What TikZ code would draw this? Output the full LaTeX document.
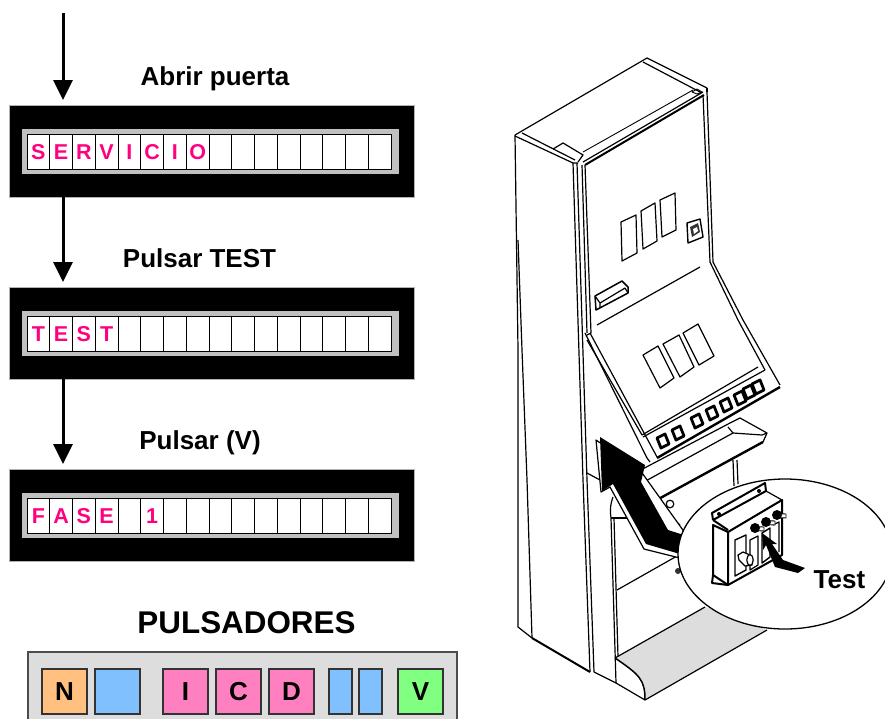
\documentclass[tikz,border=0pt]{standalone}
\usepackage{fontspec}
\setmainfont{Liberation Sans}
\usetikzlibrary{arrows.meta}
\definecolor{mag}{HTML}{FF0080}
\definecolor{lcdgray}{HTML}{C0C0C0}
\definecolor{panelgray}{HTML}{DDDDDD}
\definecolor{bOrange}{HTML}{FFC080}
\definecolor{bBlue}{HTML}{80C0FF}
\definecolor{bPink}{HTML}{FF80C0}
\definecolor{bGreen}{HTML}{80FF80}
\newcommand{\lcd}[2]{%
  \node[frameblk,minimum height=92pt,anchor=north west] (#1) at (9.5,#2) {};
  \fill[lcdgray] (22,#2+24) rectangle (399,#2+69);
  \draw[black,line width=1pt,fill=white] (27,#2+29) rectangle (391,#2+64);
  \foreach \i in {1,...,15}{\draw[line width=1pt] ({27+22.75*\i},#2+29) -- ({27+22.75*\i},#2+64);}
}
\newcommand{\lcdtext}[2]{%
  \foreach \c [count=\i from 0] in {#2}{\node[lcdch] at ({38.4+22.75*\i},#1+54) {\c};}
}
\tikzset{
  x=1pt,y=-1pt,
  frameblk/.style={fill=black,draw=gray!60,line width=.5pt,minimum width=404.5pt,inner sep=0pt,outer sep=0pt},
  lcdch/.style={text=mag,font=\fontsize{21.5}{21}\selectfont\bfseries,inner sep=0pt,anchor=base},
  lab/.style={font=\fontsize{26}{26}\selectfont\bfseries,inner sep=0pt,anchor=base},
  flow/.style={line width=3pt,-{Triangle[width=19pt,length=20pt]}},
  btn/.style={draw=black!80,line width=1.2pt,minimum height=45pt,inner sep=0pt,outer sep=0pt,anchor=north west},
  btxt/.style={font=\fontsize{26}{26}\selectfont\bfseries,inner sep=0pt,anchor=base},
  ln/.style={line width=1.2pt,line join=round},
  thn/.style={line width=.9pt,line join=round},
  thk/.style={line width=2pt,line join=round},
  btk/.style={draw=black,line width=2.8pt,fill=white,line join=round},
}
\begin{document}
\begin{tikzpicture}
\useasboundingbox (0,0) rectangle (885,718);
\clip (0,0) rectangle (885,718);
% displays
\lcd{d1}{105}\lcdtext{105}{S,E,R,V,I,C,I,O}
\lcd{d2}{287}\lcdtext{287}{T,E,S,T}
\lcd{d3}{469}\lcdtext{469}{F,A,S,E,{},1}
\coordinate (a0) at (63,13);
\draw[flow,shorten >=5pt] (a0) -- (a0|-d1.north);
\draw[flow,shorten >=5pt] (a0|-d1.south) -- (a0|-d2.north);
\draw[flow,shorten >=5pt] (a0|-d2.south) -- (a0|-d3.north);
\node[lab] (l1) at (215,85) {Abrir puerta};
\node[lab] (l2) at (199.5,267) {Pulsar TEST};
\node[lab] (l3) at (200,449) {Pulsar (V)};
\node[font=\fontsize{31.4}{31}\selectfont\bfseries,inner sep=0pt,anchor=base] (title) at (246.5,633) {PULSADORES};
% push-button panel
\draw[draw=black!70,fill=panelgray,line width=1.5pt] (28,652) rectangle (457,730);
\node[btn,fill=bOrange,minimum width=45pt] (bn) at (42,669) {};
\node[btn,fill=bBlue,minimum width=45pt] (b2) at (95,669) {};
\node[btn,fill=bPink,minimum width=45pt] (bi) at (163,669) {};
\node[btn,fill=bPink,minimum width=45pt] (bc) at (216,669) {};
\node[btn,fill=bPink,minimum width=45pt] (bd) at (269,669) {};
\node[btn,fill=bBlue,minimum width=23pt] (b6) at (329,669) {};
\node[btn,fill=bBlue,minimum width=23pt] (b7) at (359,669) {};
\node[btn,fill=bGreen,minimum width=45pt] (bv) at (398,669) {};
\node[btxt] (tn) at (64.5,700) {N};
\node[btxt] (ti) at (185.5,700) {I};
\node[btxt] (tc) at (238.5,700) {C};
\node[btxt] (td) at (291.5,700) {D};
\node[btxt] (tv) at (420.5,700) {V};
% cabinet: top
\draw[ln] (515,135) -- (647,58) -- (707,88);
\draw[ln] (515,136) -- (573,163) -- (578,163);
\draw[ln] (522,133) -- (575,160);
\draw[ln] (643,62) -- (700,92);
\draw[thn] (583,152) -- (693,90);
\draw[ln] (553,149) -- (563,143) -- (583,155) -- (578,162);
\draw[thn] (692,92) -- (697,89) -- (702,92) -- (697,94) -- cycle;
\draw[ln] (583,162) -- (703,92);
\draw[thk] (585,165) -- (704,95);
\draw[ln] (707,88) -- (707,92);
% cabinet: side
\draw[ln] (515,135) -- (518,350) -- (518,627) -- (532,638);
\draw[ln] (518,240) -- (522,350) -- (527,480) -- (532,638);
\draw[thk] (532,638) -- (590,672);
\draw[ln] (573,163) -- (583,480) -- (590,672);
\draw[ln] (577,163) -- (587,480) -- (594,672);
\draw[ln] (582,165) -- (587,333);
\draw[ln] (585,165) -- (591,333) -- (587,335);
% cabinet: face right edge
\draw[ln] (703,95) -- (710,262) -- (738,320) -- (765,370);
\draw[ln] (707,92) -- (713,262) -- (743,320) -- (780,385);
% face left slant
\draw[ln] (585,333) -- (647,458);
\draw[ln] (590,333) -- (657,457);
\draw[ln] (587,340) -- (642,435);
% face windows and fittings
\draw[ln] (621,222) -- (636,215) -- (637,253) -- (622,261) -- cycle;
\draw[ln] (641,211) -- (655,203) -- (657,241) -- (643,249) -- cycle;
\draw[ln] (660,200) -- (675,193) -- (676,230) -- (662,237) -- cycle;
\draw[ln,line width=1.4pt] (687,223) -- (700,219) -- (703,237) -- (688,243) -- cycle;
\fill[black!80] (690,227) -- (698,223) -- (700,232) -- (692,237) -- cycle;
\fill[white] (693,229) -- (697,227) -- (698,231) -- (694,234) -- cycle;
\draw[ln,line width=1.5pt] (595,296) -- (622,281) -- (628,287) -- (628,293) -- (596,310) -- cycle;
\draw[ln] (595,296) -- (600,303) -- (600,308);
\draw[ln] (600,303) -- (625,288) -- (628,293);
\draw[ln] (597,325) -- (700,267);
\draw[ln] (643,355) -- (658,346) -- (674,378) -- (660,388) -- cycle;
\draw[ln] (663,344) -- (679,335) -- (694,367) -- (680,377) -- cycle;
\draw[ln] (683,333) -- (698,324) -- (714,356) -- (699,365) -- cycle;
% button strip
\draw[ln] (642,435) -- (758,367);
\draw[ln] (643,437) -- (765,370);
\draw[thk,line width=2.4pt] (657,458) -- (780,387);
\draw[ln] (647,458) -- (650,462);
\foreach \cx/\cy in {663/441,678/433,697/421,712/413,726/405,740/398,749/392,758/387}{
  \draw[btk] (\cx-6,\cy-3) -- (\cx+2,\cy-7) -- (\cx+6,\cy+3) -- (\cx-2,\cy+7) -- cycle;
}
% tray
\draw[ln] (635,473) -- (730,423) -- (740,418) -- (767,433) -- (763,442);
\draw[ln] (635,473) -- (642,483) -- (733,433) -- (728,427);
\draw[ln] (733,433) -- (762,435) -- (767,433);
\draw[thk,line width=2.4pt] (653,502) -- (763,442);
\draw[ln] (653,502) -- (680,525);
\draw[ln] (733,460) -- (734,486);
\draw[ln] (737,460) -- (738,484);
\draw[ln] (670,504) circle[radius=3.8];
% lower cabinet
\draw[ln] (587,473) -- (600,480);
\draw[ln] (613,497) .. controls (610,505) and (610,512) .. (611,518) -- (616,683);
\draw[ln] (614,518) -- (618,657);
\draw[ln] (611,518) -- (627,518);
\draw[ln] (617,590) -- (677,556);
\fill[black!80] (678,571) circle[radius=3];
\path[fill=panelgray] (615,658) -- (705,607) -- (767,630) -- (645,700) .. controls (645,680) and (640,675) .. (615,658);
\draw[ln] (615,658) -- (705,607);
\draw[ln] (645,700) -- (767,630);
\draw[thk,line width=1.5pt] (615,658) .. controls (640,675) and (645,680) .. (645,700);
\draw[ln] (594,672) -- (616,683) -- (645,700);
% big arrow
\draw[ln,fill=white] (596,440) -- (601,492) -- (610,487) -- (644,549) -- (680,558) -- (690,540) -- (640,470) -- cycle;
\fill[black] (600,437) -- (645,465) -- (641,482) -- (668,530) -- (690,537) -- (680,554) -- (646,544) -- (613,484) -- (602,491) -- cycle;
% detail ellipse
\draw[ln,line width=1.3pt,fill=white] (785,554) ellipse[x radius=107,y radius=75];
% control box
\draw[thk] (713,520) -- (712,513) -- (765,483) -- (766,491) -- (713,520);
\draw[thk] (713,520) -- (728,530);
\draw[ln] (766,491) -- (782,500) -- (728,532);
\draw[thk] (713,525) -- (728,532) -- (728,585) -- (713,575) -- cycle;
\draw[thk] (728,532) -- (782,500) -- (782,555) -- (728,585);
\draw[thk] (713,575) -- (712,583) -- (728,585);
\fill (719,514) circle[radius=2];
\fill (759,491) circle[radius=2];
\draw[thk,line width=1.4pt] (735,540) -- (746,535) -- (746,570) -- (735,576) -- cycle;
\draw[ln] (750,540) -- (758,536) -- (758,565) -- (750,570) -- cycle;
\draw[thk,line width=1.4pt] (762,533) -- (770,528) -- (770,557) -- (762,563) -- cycle;
\draw[ln] (773,525) -- (779,522) -- (779,552);
\draw[ln,fill=white] (738,555) -- (743,552) -- (750,555) -- (752,565) -- (745,566) -- (739,560) -- cycle;
\draw[ln,fill=white] (750,560) ellipse[x radius=3.2,y radius=5.5];
\foreach \cx/\cy in {755/528,766/522,777/515}{
  \draw[thn,fill=white] (\cx,\cy-1.5) -- (\cx+9,\cy-1) -- (\cx+9,\cy+3) -- (\cx,\cy+2.5) -- cycle;
  \fill (\cx,\cy) circle[radius=5];
}
\fill (762,533) -- (777,544) -- (772,544) -- (783,560) -- (805,568) -- (798,573) -- (775,567) -- (766,545) -- (763,550) -- cycle;
\node[lab] (test) at (839.5,588) {Test};
\end{tikzpicture}
\end{document}
